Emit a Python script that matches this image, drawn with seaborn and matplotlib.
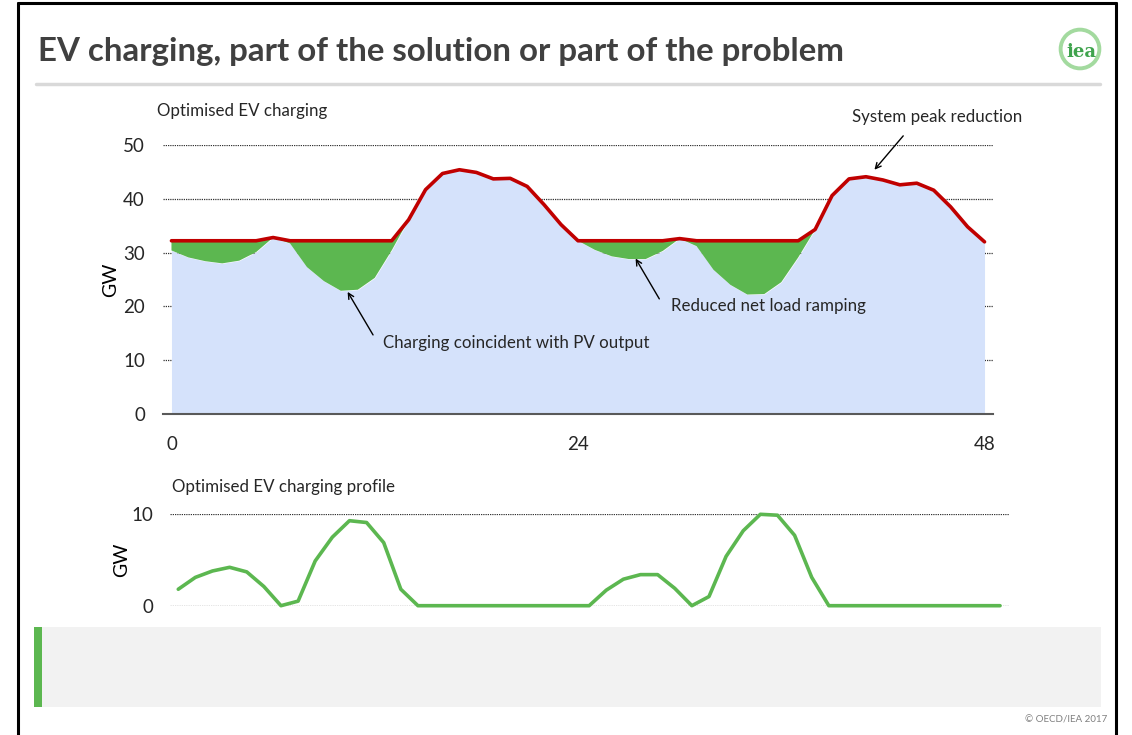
import numpy as np
import matplotlib
matplotlib.use("Agg")
import matplotlib.pyplot as plt
from matplotlib import font_manager
from matplotlib.lines import Line2D
from matplotlib.patches import Rectangle, Circle
import seaborn as sns

# hourly values over two days
hours = list(range(49))
base_load = [30.4, 29.1, 28.4, 28.0, 28.5, 30.1, 32.8, 31.7, 27.3, 24.7,
             22.9, 23.1, 25.3, 30.4, 36.1, 41.7, 44.7, 45.4, 44.9, 43.7,
             43.8, 42.3, 38.9, 35.2, 32.2, 30.5, 29.3, 28.8, 28.8, 30.3,
             32.6, 31.2, 26.8, 24.0, 22.2, 22.3, 24.5, 29.1, 34.3, 40.6,
             43.7, 44.1, 43.5, 42.6, 42.9, 41.6, 38.5, 34.8, 32.0]
ev_charging = [1.8, 3.1, 3.8, 4.2, 3.7, 2.1, 0.0, 0.5, 4.9, 7.5,
               9.3, 9.1, 6.9, 1.8, 0.0, 0.0, 0.0, 0.0, 0.0, 0.0,
               0.0, 0.0, 0.0, 0.0, 0.0, 1.7, 2.9, 3.4, 3.4, 1.9,
               0.0, 1.0, 5.4, 8.2, 10.0, 9.9, 7.7, 3.1, 0.0, 0.0,
               0.0, 0.0, 0.0, 0.0, 0.0, 0.0, 0.0, 0.0, 0.0]
x_labels = ["0", "24", "48"]
top_yticks = [0, 10, 20, 30, 40, 50]
bottom_yticks = [0, 10]

title = "EV charging, part of the solution or part of the problem"

sns.set_style("white")
names = {f.name for f in font_manager.fontManager.ttflist}
narrow = "Liberation Sans Narrow" if "Liberation Sans Narrow" in names else "Lato"
plt.rcParams["font.family"] = [narrow, "DejaVu Sans"]

BLUE = "#D5E2FB"
GREEN = "#5CB750"
RED = "#C00000"
TXT = "#262626"
W, H = 1132, 735


def fx(px):
    return px / W


def fy(py):
    return 1 - py / H


fig = plt.figure(figsize=(W / 100, H / 100), dpi=100)

# slide frame, title, rule, logo
for xs, ys in [([18, 18], [3, 735]), ([1116, 1116], [3, 735]), ([18, 1116], [3, 3])]:
    fig.add_artist(Line2D([fx(v) for v in xs], [fy(v) for v in ys],
                          transform=fig.transFigure, color="black", lw=2.2))
fig.text(fx(38), fy(61), title, ha="left", va="baseline", fontsize=23.8,
         fontweight="bold", color="#404040")
fig.add_artist(Line2D([fx(36), fx(1100)], [fy(84), fy(84)],
                      transform=fig.transFigure, color="#D9D9D9", lw=2.5))
logo = fig.add_axes([fx(1058), fy(71), fx(44), 44 / H])
logo.set_xlim(-1, 1)
logo.set_ylim(-1, 1)
logo.axis("off")
logo.add_patch(Circle((0, 0), 0.88, fill=False, ec="#A3DA9F", lw=2.8))
logo.text(0.08, -0.15, "iea", ha="center", va="center", fontsize=13,
          fontweight="bold", color="#3FA34D", family="DejaVu Serif")

# grey box at the bottom
fig.add_artist(Rectangle((fx(34), fy(707)), fx(1101) - fx(34), fy(627) - fy(707),
                         transform=fig.transFigure, color="#F2F2F2", lw=0))
fig.add_artist(Rectangle((fx(34), fy(707)), fx(8), fy(627) - fy(707),
                         transform=fig.transFigure, color=GREEN, lw=0))
fig.text(fx(1107), fy(720), "\u00a9 OECD/IEA 2017", ha="right", va="center",
         fontsize=7, color="#808080")

base = np.array(base_load)
ev = np.array(ev_charging)
total = base + ev

# top chart
ax = fig.add_axes([fx(163), fy(414), fx(993) - fx(163), fy(145) - fy(414)])
ax.set_axisbelow(True)
ax.fill_between(hours, 0, base, color=BLUE, lw=0, zorder=1)
ax.fill_between(hours, base, total, where=total > base, interpolate=True,
                color=GREEN, lw=0, zorder=2)
sns.lineplot(x=hours, y=total, ax=ax, color=RED, lw=2.6, zorder=3)
ax.set_xlim(-0.5, 48.5)
ax.set_ylim(0, 50)
ax.set_yticks(top_yticks)
ax.grid(axis="y", color="#333333", ls=(0, (1, 0.8)), lw=0.9)
ax.set_xticks([0, 24, 48])
ax.set_xticklabels(x_labels)
ax.set_xticks([-0.5, 23.5, 47.5], minor=True)
ax.tick_params(axis="x", which="major", length=0, pad=16, labelsize=13.5, labelcolor=TXT)
ax.tick_params(axis="x", which="minor", length=6, width=1.2, color="#595959", direction="out")
ax.tick_params(axis="y", length=0, pad=13, labelsize=13.5, labelcolor=TXT)
for s in ["top", "right", "left"]:
    ax.spines[s].set_visible(False)
ax.spines["bottom"].set_color("#595959")
ax.spines["bottom"].set_linewidth(1.5)
ax.set_xlabel("")
ax.set_ylabel("GW", fontsize=14, color="black", labelpad=3)
fig.text(fx(157), fy(111), "Optimised EV charging", ha="left", va="center",
         fontsize=12.2, color=TXT)

arrow = dict(arrowstyle="->", color="black", lw=1.0, shrinkA=0, shrinkB=0)
ax.annotate("", xy=(10.4, 22.7), xytext=(11.9, 14.7), arrowprops=arrow)
ax.text(12.5, 13.2, "Charging coincident with PV output", ha="left", va="center",
        fontsize=12.2, color=TXT)
ax.annotate("", xy=(27.4, 28.9), xytext=(28.8, 21.4), arrowprops=arrow)
ax.text(29.5, 20.1, "Reduced net load ramping", ha="left", va="center",
        fontsize=12.2, color=TXT)
ax.annotate("", xy=(41.5, 45.4), xytext=(43.2, 51.7), arrowprops=arrow,
            annotation_clip=False)
ax.text(40.15, 55.2, "System peak reduction", ha="left", va="center",
        fontsize=12.2, color=TXT, clip_on=False)

# bottom chart
bx = fig.add_axes([fx(169.7), fy(605.7), fx(1008.6) - fx(169.7), fy(514.3) - fy(605.7)])
bx.set_axisbelow(True)
sns.lineplot(x=hours, y=ev_charging, ax=bx, color=GREEN, lw=2.6)
for ln in bx.lines:
    ln.set_clip_on(False)
bx.set_xlim(-0.5, 48.5)
bx.set_ylim(0, 10)
bx.set_yticks(bottom_yticks)
bx.set_xticks([])
bx.grid(axis="y", color="#333333", ls=(0, (1, 0.8)), lw=0.9)
bx.tick_params(axis="y", length=0, pad=12, labelsize=13.5, labelcolor=TXT)
sns.despine(ax=bx, left=True, bottom=True)
bx.set_ylabel("GW", fontsize=14, color="black", labelpad=1)
fig.text(fx(172), fy(487), "Optimised EV charging profile", ha="left", va="center",
         fontsize=12.2, color=TXT)

fig.savefig("out.png", dpi=100)
